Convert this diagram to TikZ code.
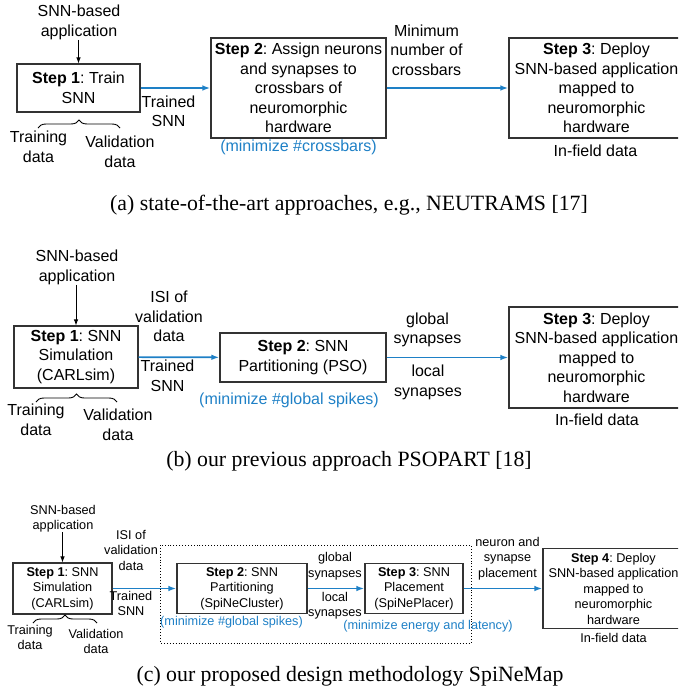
\documentclass[tikz,border=0pt]{standalone}
\usepackage{fontspec}
\setmainfont{Liberation Serif}
\setsansfont{Liberation Sans}
\usepackage{tikz}
\usetikzlibrary{arrows.meta,positioning,calc,decorations.pathreplacing}
\definecolor{optblue}{RGB}{30,128,198}
\frenchspacing

\begin{document}
\begin{tikzpicture}[x=1pt, y=-1pt,
    stepbox/.style={draw=black!80, line width=1.1pt, align=center, inner sep=0pt, font=\sffamily\fontsize{16}{19.5}\selectfont},
    lbl/.style={align=center, inner sep=0pt, font=\sffamily\fontsize{16}{19.5}\selectfont},
    goal/.style={lbl, text=optblue},
    small/.style={font=\sffamily\fontsize{12.7}{15.5}\selectfont},
    flow/.style={draw=optblue, line width=1.7pt, -{Latex[length=8pt,width=5.5pt]}},
    feed/.style={draw=black, line width=0.9pt, -{Latex[length=6pt,width=4.5pt]}},
    brc/.style={decorate, decoration={brace, amplitude=8pt}, line width=0.9pt},
    capt/.style={inner sep=0pt, font=\fontsize{21.8}{26}\selectfont}
]
    \clip (0,0) rectangle (678,691);

    % (a) state of the art
    \node[lbl] (appA) at (79,22.5) {SNN-based\\application};
    \node[stepbox, minimum width=123, minimum height=48] (s1A) at (78.5,88) {\textbf{Step 1}: Train\\SNN};
    \node[stepbox, minimum width=175, minimum height=100] (s2A) at (298.5,88) {\textbf{Step 2}: Assign neurons\\and synapses to\\crossbars of\\neuromorphic\\hardware};
    \node[stepbox, minimum width=175, minimum height=100] (s3A) at (596.5,88) {\textbf{Step 3}: Deploy\\SNN-based application\\mapped to\\neuromorphic\\hardware};
    \node[lbl] (trA) at (38.5,147) {Training\\data};
    \node[lbl] (vaA) at (120,152) {Validation\\data};
    \node[lbl] (tsA) at (168.5,111.5) {Trained\\SNN};
    \node[goal] (gA) at (298.5,147.5) {(minimize \#crossbars)};
    \node[lbl] (mnA) at (426.5,50) {Minimum\\number of\\crossbars};
    \node[lbl] (ifA) at (595.5,151) {In-field data};
    \draw[feed] (appA.south -| s1A.north) -- (s1A.north);
    \draw[brc] (38,128) -- (120,128);
    \draw[flow] (s1A) -- (s2A);
    \draw[flow] (s2A) -- (s3A);
    \node[capt] (capA) at (349,205) {(a) state-of-the-art approaches, e.g., NEUTRAMS [17]};

    % (b) previous approach
    \node[lbl] (appB) at (77,267.5) {SNN-based\\application};
    \node[stepbox, minimum width=124, minimum height=62] (s1B) at (76,357) {\textbf{Step 1}: SNN\\Simulation\\(CARLsim)};
    \node[stepbox, minimum width=166, minimum height=49] (s2B) at (303,357.5) {\textbf{Step 2}: SNN\\Partitioning (PSO)};
    \node[stepbox, minimum width=175, minimum height=101] (s3B) at (596.5,357.5) {\textbf{Step 3}: Deploy\\SNN-based application\\mapped to\\neuromorphic\\hardware};
    \node[lbl] (trB) at (36,420) {Training\\data};
    \node[lbl] (vaB) at (118,425) {Validation\\data};
    \node[lbl] (isB) at (169,316.5) {ISI of\\validation\\data};
    \node[lbl] (tsB) at (167.5,376) {Trained\\SNN};
    \node[goal] (gB) at (289,400) {(minimize \#global spikes)};
    \node[lbl] (glB) at (427.5,330) {global\\synapses};
    \node[lbl] (loB) at (428,382.5) {local\\synapses};
    \node[lbl] (ifB) at (597,420) {In-field data};
    \draw[feed] (appB.south -| s1B.north) -- (s1B.north);
    \draw[brc] (36,402) -- (117,402);
    \draw[flow] (s1B) -- (s2B);
    \draw[flow] (s2B) -- (s3B);
    \node[capt] (capB) at (349,461) {(b) our previous approach PSOPART [18]};

    % (c) SpiNeMap
    \draw[dotted, line width=0.9pt] (160.5,545) rectangle (471,643);
    \node[lbl, small] (appC) at (63,518.5) {SNN-based\\application};
    \node[stepbox, small, minimum width=99, minimum height=51] (s1C) at (62.5,588.5) {\textbf{Step 1}: SNN\\Simulation\\(CARLsim)};
    \node[stepbox, small, minimum width=130, minimum height=50] (s2C) at (242,588.5) {\textbf{Step 2}: SNN\\Partitioning\\(SpiNeCluster)};
    \node[stepbox, small, minimum width=98, minimum height=50] (s3C) at (414,588.5) {\textbf{Step 3}: SNN\\Placement\\(SpiNePlacer)};
    \node[stepbox, small, minimum width=141, minimum height=80] (s4C) at (613.5,588.5) {\textbf{Step 4}: Deploy\\SNN-based application\\mapped to\\neuromorphic\\hardware};
    \node[lbl, small] (trC) at (30,637.5) {Training\\data};
    \node[lbl, small] (vaC) at (96,641.5) {Validation\\data};
    \node[lbl, small] (isC) at (131,550) {ISI of\\validation\\data};
    \node[lbl, small] (tsC) at (131,603.5) {Trained\\SNN};
    \node[goal, small] (gC2) at (231.5,622.5) {(minimize \#global spikes)};
    \node[lbl, small] (glC) at (335,566) {global\\synapses};
    \node[lbl, small] (loC) at (335,605.5) {local\\synapses};
    \node[goal, small] (gC3) at (428,626) {(minimize energy and latency)};
    \node[lbl, small] (npC) at (507.5,558.5) {neuron and\\synapse\\placement};
    \node[lbl, small] (ifC) at (613.5,637.5) {In-field data};
    \draw[feed] (appC.south -| s1C.north) -- (s1C.north);
    \draw[brc] (33,623) -- (97,623);
    \draw[flow] (s1C) -- (s2C);
    \draw[flow] (s2C) -- (s3C);
    \draw[flow] (s3C) -- (s4C);
    \node[capt] (capC) at (350,676) {(c) our proposed design methodology SpiNeMap};
\end{tikzpicture}
\end{document}
